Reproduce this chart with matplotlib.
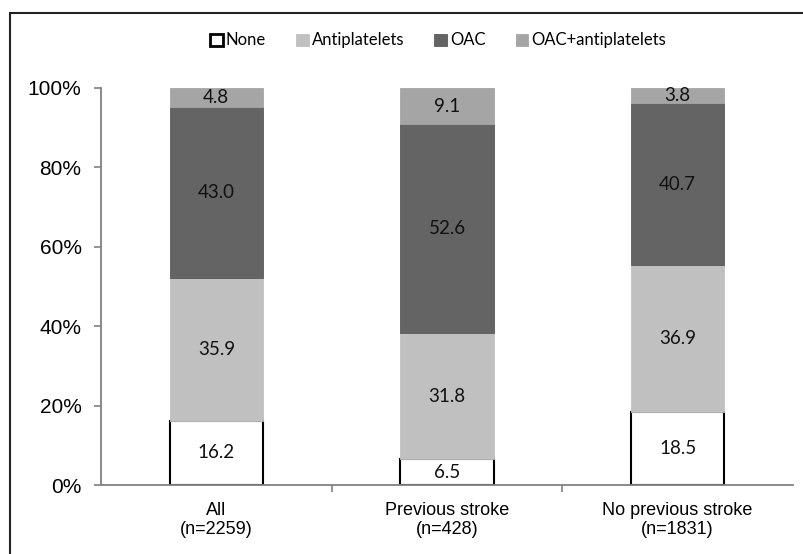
import matplotlib
matplotlib.use("Agg")
import matplotlib.pyplot as plt
from matplotlib.patches import Rectangle
from matplotlib.ticker import FuncFormatter
import numpy as np

# data
groups = ['All\n(n=2259)', 'Previous stroke\n(n=428)', 'No previous stroke\n(n=1831)']
series_names = ['None', 'Antiplatelets', 'OAC', 'OAC+antiplatelets']
none_vals = [16.2, 6.5, 18.5]
antiplatelet_vals = [35.9, 31.8, 36.9]
oac_vals = [43.0, 52.6, 40.7]
oac_anti_vals = [4.8, 9.1, 3.8]

colors = ['#FFFFFF', '#C0C0C0', '#646464', '#A5A5A5']
edges = ['#000000', '#C0C0C0', '#5A5A5A', '#A5A5A5']

fig = plt.figure(figsize=(8.04, 5.54), dpi=100)
ax = fig.add_axes([0.1256, 0.1245, 0.8607, 0.7167])

x = np.arange(len(groups))
bottom = np.zeros(len(groups))
for name, vals, c, ec in zip(series_names,
                             [none_vals, antiplatelet_vals, oac_vals, oac_anti_vals],
                             colors, edges):
    lw = 1.5 if name == 'None' else 0.6
    bars = ax.bar(x, vals, width=0.405, bottom=bottom, color=c, edgecolor=ec,
                  linewidth=lw, label=name, zorder=2)
    ax.bar_label(bars, labels=[f'{v:.1f}' for v in vals], label_type='center',
                 fontsize=13.5, family='Lato', color='#111111')
    bottom += np.array(vals)

ax.set_xlim(-0.5, 2.5)
ax.set_ylim(0, 100)
ax.set_yticks([0, 20, 40, 60, 80, 100])
ax.yaxis.set_major_formatter(FuncFormatter(lambda v, p: f'{v:.0f}%'))
ax.set_xticks(x)
ax.set_xticklabels(groups, fontsize=13, family='Liberation Sans', linespacing=1.2)
ax.set_xticks([0.5, 1.5], minor=True)
ax.tick_params(axis='x', which='major', length=0, pad=12)
ax.tick_params(axis='x', which='minor', length=5, color='#808080', width=1.2, direction='out')
ax.tick_params(axis='y', length=5, color='#808080', width=1.2, labelsize=15, pad=9)
for lab in ax.get_yticklabels():
    lab.set_family('Liberation Sans')

for s in ['top', 'right']:
    ax.spines[s].set_visible(False)
for s in ['left', 'bottom']:
    ax.spines[s].set_color('#808080')
    ax.spines[s].set_linewidth(1.3)

# legend with square markers
handles, labels = ax.get_legend_handles_labels()
leg = fig.legend(handles, labels, loc='center', bbox_to_anchor=(0.545, 0.927), ncol=4,
                 frameon=False, prop={'family': 'Lato', 'size': 12},
                 handlelength=0.75, handleheight=0.75, handletextpad=0.2,
                 columnspacing=1.8)
leg.legend_handles[0].set_linewidth(2.0)

# outer border
fig.patches.append(Rectangle((10 / 804, -0.05), 1.0, 1 - 13 / 554 + 0.05,
                             transform=fig.transFigure, fill=False,
                             edgecolor='#222222', linewidth=1.5, clip_on=False))

plt.savefig('out.png', dpi=100)
